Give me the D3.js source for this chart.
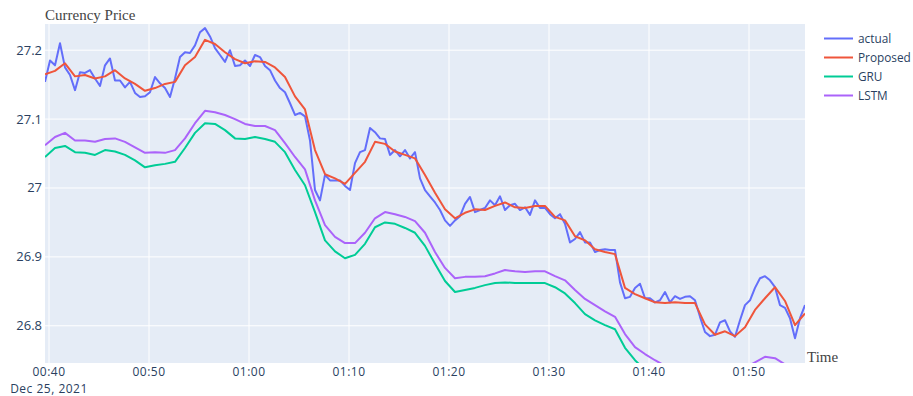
<!DOCTYPE html>
<html>
<head>
<meta charset="utf-8">
<script src="https://cdn.jsdelivr.net/npm/d3@7"></script>
<style>
    body { margin: 0; background: #fff; }
    .tick-label { font-family: 'Open Sans', sans-serif; font-size: 13px; fill: #2a3f5f; }
    .x-label { font-family: 'Open Sans', sans-serif; font-size: 12px; letter-spacing: 0.5px; fill: #2a3f5f; }
    .legend-label { font-family: 'Open Sans', sans-serif; font-size: 11.8px; fill: #2a3f5f; }
    .note { font-family: 'Liberation Serif', 'Times New Roman', serif; font-size: 15px; fill: #444; }
</style>
</head>
<body>
<div id="chart"></div>
<script>

// DATA

const series_names = ['actual', 'Proposed', 'GRU', 'LSTM'];

// actual sampled every 30 s, the models every 60 s, from 00:39:36
const actual = [
    27.154, 27.185, 27.178, 27.210, 27.175, 27.164, 27.142, 27.168, 27.167, 27.171,
    27.159, 27.148, 27.178, 27.188, 27.156, 27.156, 27.146, 27.154, 27.138, 27.132,
    27.133, 27.139, 27.161, 27.152, 27.145, 27.132, 27.159, 27.190, 27.197, 27.196,
    27.207, 27.226, 27.232, 27.220, 27.203, 27.193, 27.183, 27.200, 27.177, 27.178,
    27.185, 27.177, 27.193, 27.190, 27.177, 27.171, 27.156, 27.145, 27.139, 27.123,
    27.106, 27.109, 27.104, 27.069, 26.997, 26.982, 27.019, 27.011, 27.011, 27.011,
    27.003, 26.997, 27.036, 27.052, 27.055, 27.087, 27.081, 27.072, 27.071, 27.048,
    27.055, 27.046, 27.055, 27.043, 27.052, 27.014, 26.997, 26.988, 26.979, 26.968,
    26.953, 26.945, 26.953, 26.959, 26.977, 26.987, 26.965, 26.968, 26.971, 26.982,
    26.975, 26.988, 26.968, 26.975, 26.977, 26.968, 26.972, 26.961, 26.982, 26.971,
    26.971, 26.962, 26.956, 26.962, 26.948, 26.921, 26.926, 26.936, 26.921, 26.921,
    26.907, 26.910, 26.911, 26.910, 26.910, 26.863, 26.840, 26.842, 26.855, 26.861,
    26.840, 26.840, 26.834, 26.837, 26.849, 26.834, 26.843, 26.839, 26.842, 26.843,
    26.837, 26.813, 26.791, 26.785, 26.787, 26.805, 26.808, 26.792, 26.784, 26.808,
    26.830, 26.837, 26.855, 26.869, 26.872, 26.866, 26.856, 26.830, 26.826, 26.811,
    26.782, 26.811, 26.830
];

const proposed = [
    27.165, 27.170, 27.181, 27.162, 27.164, 27.159, 27.162, 27.171, 27.159, 27.151,
    27.141, 27.145, 27.151, 27.154, 27.178, 27.190, 27.215, 27.209, 27.197, 27.187,
    27.181, 27.184, 27.183, 27.175, 27.161, 27.133, 27.114, 27.055, 27.020, 27.014,
    27.006, 27.022, 27.038, 27.067, 27.064, 27.053, 27.048, 27.043, 27.019, 26.993,
    26.969, 26.956, 26.964, 26.969, 26.968, 26.974, 26.979, 26.972, 26.971, 26.974,
    26.974, 26.958, 26.953, 26.930, 26.924, 26.911, 26.907, 26.904, 26.855, 26.846,
    26.840, 26.834, 26.833, 26.834, 26.833, 26.833, 26.802, 26.787, 26.792, 26.785,
    26.798, 26.823, 26.840, 26.856, 26.836, 26.801, 26.818
];

const gru = [
    27.045, 27.058, 27.061, 27.052, 27.051, 27.048, 27.055, 27.053, 27.048, 27.040,
    27.030, 27.033, 27.035, 27.038, 27.058, 27.080, 27.094, 27.093, 27.084, 27.072,
    27.071, 27.074, 27.071, 27.067, 27.052, 27.026, 27.004, 26.965, 26.924, 26.908,
    26.898, 26.903, 26.919, 26.943, 26.950, 26.948, 26.942, 26.935, 26.916, 26.890,
    26.865, 26.849, 26.852, 26.855, 26.859, 26.862, 26.863, 26.862, 26.862, 26.862,
    26.862, 26.856, 26.847, 26.833, 26.817, 26.808, 26.801, 26.795, 26.768, 26.750,
    26.736, 26.726, 26.717, 26.710, 26.702, 26.697, 26.692, 26.692, 26.697, 26.704,
    26.714, 26.724, 26.731, 26.731, 26.723, 26.711, 26.702
];

const lstm = [
    27.062, 27.074, 27.080, 27.069, 27.069, 27.067, 27.071, 27.072, 27.067, 27.059,
    27.051, 27.052, 27.051, 27.055, 27.072, 27.094, 27.112, 27.110, 27.106, 27.100,
    27.093, 27.090, 27.090, 27.084, 27.065, 27.045, 27.027, 26.982, 26.946, 26.929,
    26.920, 26.920, 26.935, 26.956, 26.965, 26.962, 26.958, 26.952, 26.935, 26.907,
    26.884, 26.869, 26.871, 26.871, 26.872, 26.876, 26.881, 26.879, 26.878, 26.879,
    26.879, 26.872, 26.866, 26.852, 26.839, 26.830, 26.821, 26.813, 26.788, 26.769,
    26.759, 26.750, 26.742, 26.733, 26.724, 26.718, 26.714, 26.715, 26.721, 26.728,
    26.739, 26.747, 26.755, 26.753, 26.744, 26.733, 26.724
];

const y_ticks = [26.8, 26.9, 27, 27.1, 27.2];
const y_tick_labels = ['26.8', '26.9', '27', '27.1', '27.2'];
const x_tick_labels = ['00:40', '00:50', '01:00', '01:10', '01:20', '01:30', '01:40', '01:50'];
const date_label = 'Dec 25, 2021';

// CONFIG

const width = 913,
    height = 396;

const plot = { left: 45, right: 805, top: 24, bottom: 363 };

const colors = {
    actual: '#636efa',
    Proposed: '#ef553b',
    GRU: '#00cc96',
    LSTM: '#ab63fa'
};

const start = new Date(2021, 11, 25, 0, 39, 36);
const end = new Date(2021, 11, 25, 1, 55, 36);

const to_points = (values, step) =>
    values.map((v, i) => ({ t: d3.timeSecond.offset(start, i * step), v: v }));

const lines = [
    { name: 'actual', points: to_points(actual, 30) },
    { name: 'Proposed', points: to_points(proposed, 60) },
    { name: 'GRU', points: to_points(gru, 60) },
    { name: 'LSTM', points: to_points(lstm, 60) }
];

// D3

const svg = d3.select('#chart')
    .append('svg')
    .attr('width', width)
    .attr('height', height);

const x_scale = d3.scaleTime()
    .domain([start, end])
    .range([plot.left, plot.right]);

const y_scale = d3.scaleLinear()
    .domain([26.746, 27.238])
    .range([plot.bottom, plot.top]);

svg.append('rect')
    .attr('x', plot.left)
    .attr('y', plot.top)
    .attr('width', plot.right - plot.left)
    .attr('height', plot.bottom - plot.top)
    .attr('fill', '#e5ecf6');

svg.append('clipPath')
    .attr('id', 'clip')
    .append('rect')
    .attr('x', plot.left)
    .attr('y', plot.top)
    .attr('width', plot.right - plot.left)
    .attr('height', plot.bottom - plot.top);

const x_ticks = x_tick_labels.map((s) => {
    const parts = s.split(':');
    return new Date(2021, 11, 25, +parts[0], +parts[1]);
});

// grid
svg.append('g')
    .selectAll('line')
    .data(x_ticks)
    .enter()
    .append('line')
    .attr('x1', (d) => x_scale(d))
    .attr('x2', (d) => x_scale(d))
    .attr('y1', plot.top)
    .attr('y2', plot.bottom)
    .attr('stroke', '#fff')
    .attr('stroke-width', 1);

svg.append('g')
    .selectAll('line')
    .data(y_ticks)
    .enter()
    .append('line')
    .attr('x1', plot.left)
    .attr('x2', plot.right)
    .attr('y1', (d) => y_scale(d))
    .attr('y2', (d) => y_scale(d))
    .attr('stroke', '#fff')
    .attr('stroke-width', 1);

// lines
const line = d3.line()
    .x((d) => x_scale(d.t))
    .y((d) => y_scale(d.v));

svg.append('g')
    .attr('clip-path', 'url(#clip)')
    .selectAll('path')
    .data(lines)
    .enter()
    .append('path')
    .attr('d', (d) => line(d.points))
    .attr('fill', 'none')
    .attr('stroke', (d) => colors[d.name])
    .attr('stroke-width', 2)
    .attr('stroke-linejoin', 'round');

// axes labels
svg.append('g')
    .selectAll('text')
    .data(y_ticks)
    .enter()
    .append('text')
    .attr('class', 'tick-label')
    .attr('x', 42)
    .attr('y', (d) => y_scale(d) + 4.5)
    .attr('text-anchor', 'end')
    .text((d, i) => y_tick_labels[i]);

svg.append('g')
    .selectAll('text')
    .data(x_ticks)
    .enter()
    .append('text')
    .attr('class', 'x-label')
    .attr('x', (d) => x_scale(d))
    .attr('y', 376)
    .attr('text-anchor', 'middle')
    .text((d, i) => x_tick_labels[i]);

svg.append('text')
    .attr('class', 'x-label')
    .attr('x', x_scale(x_ticks[0]))
    .attr('y', 393)
    .attr('text-anchor', 'middle')
    .text(date_label);

svg.append('text')
    .attr('class', 'note')
    .attr('x', 45)
    .attr('y', 20)
    .text('Currency Price');

svg.append('text')
    .attr('class', 'note')
    .attr('x', 807)
    .attr('y', 362)
    .text('Time');

// legend
const legend = svg.append('g')
    .attr('transform', 'translate(824, 38.5)')
    .selectAll('g')
    .data(series_names)
    .enter()
    .append('g')
    .attr('transform', (d, i) => `translate(0, ${i * 19})`);

legend.append('line')
    .attr('x1', 0)
    .attr('x2', 29)
    .attr('stroke', (d) => colors[d])
    .attr('stroke-width', 2);

legend.append('text')
    .attr('class', 'legend-label')
    .attr('x', 34)
    .attr('y', 4.5)
    .text((d) => d);

</script>
</body>
</html>
